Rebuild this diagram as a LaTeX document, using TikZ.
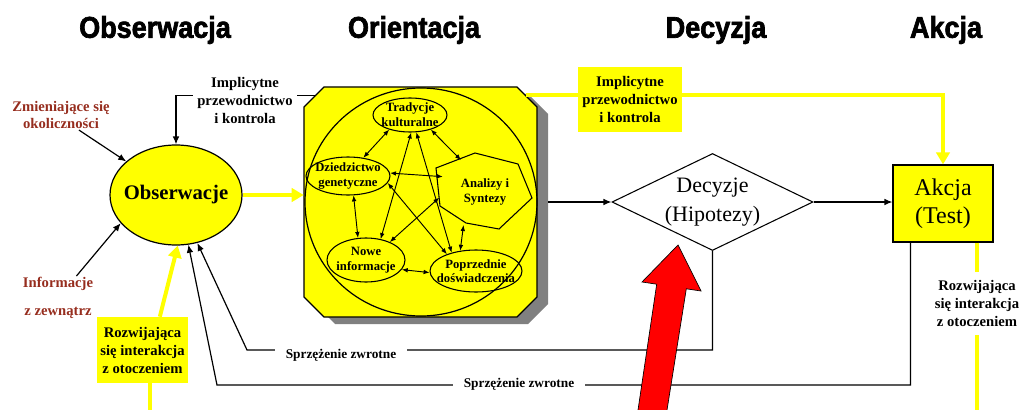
\documentclass[tikz,border=0pt]{standalone}
\usepackage{fontspec}
\setmainfont{Liberation Serif}
\newfontfamily\titlefont[BoldFeatures={FakeBold=2.2}, FakeStretch=0.9]{Liberation Sans}
\usetikzlibrary{shapes.geometric,arrows.meta}
\definecolor{yel}{RGB}{255,255,0}
\definecolor{dred}{RGB}{150,45,30}
\definecolor{shd}{RGB}{128,128,128}
\definecolor{rarr}{RGB}{255,0,0}
\begin{document}
\begin{tikzpicture}[x=0.75pt,y=-0.75pt,
 title/.style={font=\titlefont\bfseries\fontsize{22.5}{24}\selectfont, inner sep=0pt},
 lbl/.style={font=\bfseries\fontsize{11}{13.5}\selectfont, align=center, inner sep=1pt},
 redlbl/.style={lbl, text=dred, font=\bfseries\fontsize{11}{12.5}\selectfont},
 sublbl/.style={font=\bfseries\fontsize{9.5}{11}\selectfont, align=center, inner sep=0pt},
 sub/.style={ellipse, draw, line width=0.8pt, inner sep=0pt},
 darr/.style={{Latex[length=4.5pt,width=3.5pt]}-{Latex[length=4.5pt,width=3.5pt]}, line width=0.7pt},
 blk/.style={-{Latex[length=6pt,width=5pt]}, line width=0.9pt},
 yl/.style={draw=yel, line width=3pt},
 yarr/.style={yl, -{Triangle[length=9pt,width=10pt]}},
 ybox/.style={lbl, fill=yel},
 fb/.style={font=\bfseries\fontsize{10}{12}\selectfont, fill=white, inner xsep=8pt, inner ysep=1pt},
]
\useasboundingbox (0,0) rectangle (1024,410);

% titles
\node[title] (t1) at (155,30) {Obserwacja};
\node[title] (t2) at (414,30) {Orientacja};
\node[title] (t3) at (716,30) {Decyzja};
\node[title] (t4) at (946,30) {Akcja};

% orientation frame
\fill[shd, shift={(11,7)}] (304,107) -- (324,87) -- (517,87) -- (537,107) -- (537,297) -- (517,317) -- (324,317) -- (304,297) -- cycle;
\filldraw[fill=yel, line width=0.9pt] (304,107) -- (324,87) -- (517,87) -- (537,107) -- (537,297) -- (517,317) -- (324,317) -- (304,297) -- cycle;
\node[minimum width=174.75pt, minimum height=172.5pt, inner sep=0pt] (ori) at (420.5,202) {};
\draw[line width=0.9pt] (421,202) ellipse [x radius=87pt, y radius=85.5pt];
\filldraw[fill=yel, line width=0.8pt] (436,168) -- (475,153) -- (518,164) -- (532,198) -- (499,229) -- (466,223) -- (440,206) -- cycle;

\node[sub, minimum width=55.5pt, minimum height=25.5pt, label={[sublbl]center:Tradycje\\kulturalne}] (tra) at (410,115) {};
\node[sub, minimum width=63pt, minimum height=28.5pt, label={[sublbl]center:Dziedzictwo\\genetyczne}] (dzi) at (348,176) {};
\node[sub, minimum width=58.5pt, minimum height=33pt, label={[sublbl]center:Nowe\\informacje}] (now) at (366,260) {};
\node[sub, minimum width=69pt, minimum height=31.5pt, label={[sublbl]center:Poprzednie\\doświadczenia}] (pop) at (476,271) {};
\node[ellipse, minimum width=69pt, minimum height=55.5pt, inner sep=0pt, label={[sublbl]center:Analizy i\\Syntezy}] (anl) at (485,192) {};

\draw[darr] (tra.215) -- (dzi.50);
\draw[darr] (tra.325) -- (anl.127);
\draw[darr] (dzi.4) -- (anl.160);
\draw[darr] (dzi.286) -- (now.110);
\draw[darr] (tra.274) -- (now.55);
\draw[darr] (tra.290) -- (pop.143);
\draw[darr] (dzi.350) -- (pop.150);
\draw[darr] (anl.187) -- (now.37);
\draw[darr] (now.345) -- (pop.182);
\draw[darr] (anl.237) -- (pop.128);

% main nodes
\node[ellipse, draw, fill=yel, line width=0.9pt, minimum width=99pt, minimum height=75pt, inner sep=0pt, label={[font=\bfseries\fontsize{15.5}{18}\selectfont]center:Obserwacje}] (obs) at (176,195) {};
\node[diamond, draw, fill=white, line width=0.8pt, minimum width=150.75pt, minimum height=72.75pt, inner sep=0pt, label={[font=\fontsize{16.5}{22}\selectfont, align=center]center:Decyzje\\(Hipotezy)}] (dec) at (712.5,202) {};
\node[draw, fill=yel, line width=0.9pt, minimum width=75pt, minimum height=57.75pt, inner sep=0pt, align=center, font=\fontsize{18}{21}\selectfont] (akc) at (943,203.5) {Akcja\\(Test)};

% implicit guidance
\draw[blk] ([xshift=8.25pt,yshift=-6.75pt]ori.north west) -| (obs.north);
\node[lbl, fill=white, inner xsep=3pt] (imp1) at (245,100) {Implicytne\\przewodnictwo\\i kontrola};
\draw[yarr] ([xshift=-8.25pt,yshift=-6pt]ori.north east) -| (akc.north);
\node[ybox, minimum width=78pt, minimum height=48.75pt] (imp2) at (630,99.5) {Implicytne\\przewodnictwo\\i kontrola};

% flow
\draw[yarr] (obs.east) -- (obs.east -| ori.west);
\draw[blk] ([xshift=8.25pt]ori.east) -- (dec.west);
\draw[blk] (dec.east) -- (dec.east -| akc.west);

% outside info
\node[redlbl] (zmi) at (61,115) {Zmieniające się\\okoliczności};
\node[redlbl] (inf) at (58,298) {Informacje\\[8pt]z zewnątrz};
\draw[blk] (zmi.-40) -- (obs.146);
\draw[blk] (inf.50) -- (obs.207);

% unfolding interaction
\node[ybox, minimum width=68.25pt, minimum height=49.5pt] (roz1) at (142.5,350) {Rozwijająca\\się interakcja\\z otoczeniem};
\coordinate (ybot1) at (150,410);
\draw[yl] (ybot1) -- (ybot1 |- roz1.south);
\draw[yarr] ([xshift=13pt]roz1.north) -- (obs.-88);
\node[lbl, inner ysep=6pt] (roz2) at (977,303.5) {Rozwijająca\\się interakcja\\z otoczeniem};
\coordinate (ybot2) at (977,410);
\draw[yl] (akc.south -| roz2.north) -- (roz2.north);
\draw[yl] (roz2.south) -- (ybot2);

% feedback
\coordinate (fb1b) at (247,350);
\draw[blk] (dec.south) |- (fb1b) -- (obs.-66);
\node[fb] (s1) at (341,355) {Sprzężenie zwrotne};
\coordinate (fb2b) at (217,385);
\draw[blk] ([xshift=13.5pt]akc.south west) |- (fb2b) -- (obs.-76);
\node[fb] (s2) at (519,384) {Sprzężenie zwrotne};

% red arrow
\filldraw[fill=rarr, draw=black, line width=0.5pt] (638,410) -- (656.7,284.2) -- (642,282) -- (678,245) -- (701,291) -- (686.3,288.8) -- (667,410);
\end{tikzpicture}
\end{document}
